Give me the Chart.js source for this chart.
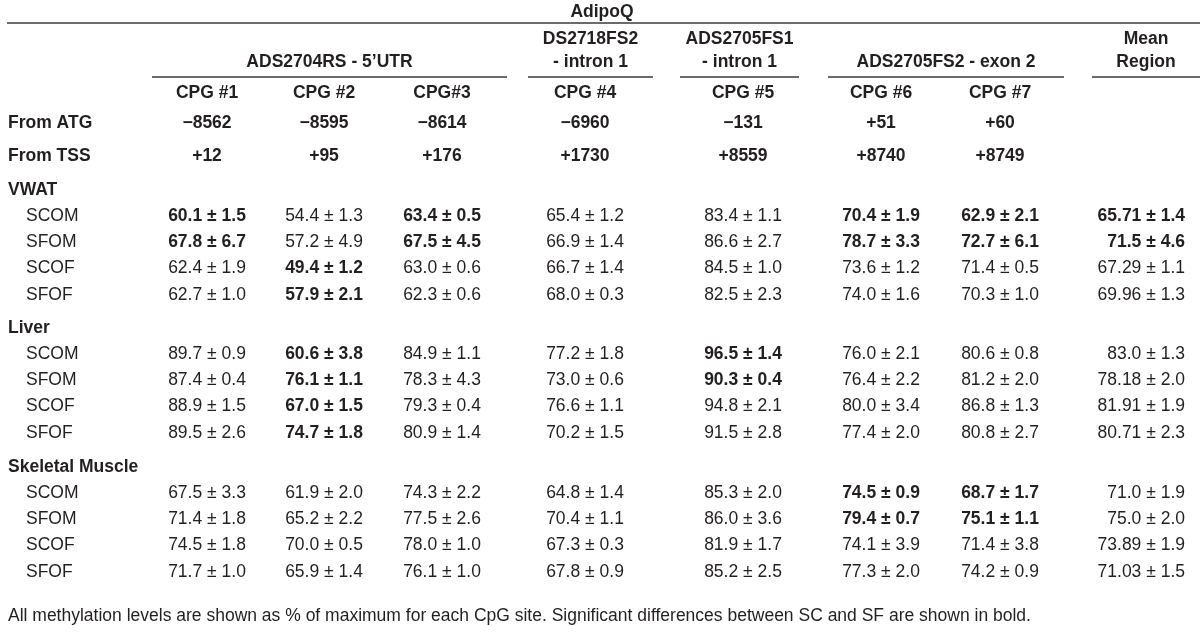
<!DOCTYPE html>
<html>
<head>
<meta charset="utf-8">
<script src="https://cdn.jsdelivr.net/npm/chart.js@4.4.1/dist/chart.umd.min.js"></script>
<style>
  html, body { margin: 0; padding: 0; background: #fff; }
  canvas { display: block; }
</style>
</head>
<body>
<canvas id="tableChart" width="1200" height="633"></canvas>
<script>
// AdipoQ methylation table, drawn as text marks on a Chart.js scatter

const title = 'AdipoQ';
const cpgSites = ['CPG #1', 'CPG #2', 'CPG#3', 'CPG #4', 'CPG #5', 'CPG #6', 'CPG #7'];
const fromATG = ['\u22128562', '\u22128595', '\u22128614', '\u22126960', '\u2212131', '+51', '+60'];
const fromTSS = ['+12', '+95', '+176', '+1730', '+8559', '+8740', '+8749'];
const regions = [
    { lines: ['ADS2704RS - 5\u2019UTR'], from: 0, to: 2 },
    { lines: ['DS2718FS2', '- intron 1'], from: 3, to: 3 },
    { lines: ['ADS2705FS1', '- intron 1'], from: 4, to: 4 },
    { lines: ['ADS2705FS2 - exon 2'], from: 5, to: 6 },
    { lines: ['Mean', 'Region'], from: 7, to: 7 }
];
const tissues = ['VWAT', 'Liver', 'Skeletal Muscle'];
const diets = ['SCOM', 'SFOM', 'SCOF', 'SFOF'];

// one row per diet, columns CPG #1..#7 then mean region
const vwatValues = [
    ['60.1 \u00b1 1.5', '54.4 \u00b1 1.3', '63.4 \u00b1 0.5', '65.4 \u00b1 1.2', '83.4 \u00b1 1.1', '70.4 \u00b1 1.9', '62.9 \u00b1 2.1', '65.71 \u00b1 1.4'],
    ['67.8 \u00b1 6.7', '57.2 \u00b1 4.9', '67.5 \u00b1 4.5', '66.9 \u00b1 1.4', '86.6 \u00b1 2.7', '78.7 \u00b1 3.3', '72.7 \u00b1 6.1', '71.5 \u00b1 4.6'],
    ['62.4 \u00b1 1.9', '49.4 \u00b1 1.2', '63.0 \u00b1 0.6', '66.7 \u00b1 1.4', '84.5 \u00b1 1.0', '73.6 \u00b1 1.2', '71.4 \u00b1 0.5', '67.29 \u00b1 1.1'],
    ['62.7 \u00b1 1.0', '57.9 \u00b1 2.1', '62.3 \u00b1 0.6', '68.0 \u00b1 0.3', '82.5 \u00b1 2.3', '74.0 \u00b1 1.6', '70.3 \u00b1 1.0', '69.96 \u00b1 1.3']
];
const liverValues = [
    ['89.7 \u00b1 0.9', '60.6 \u00b1 3.8', '84.9 \u00b1 1.1', '77.2 \u00b1 1.8', '96.5 \u00b1 1.4', '76.0 \u00b1 2.1', '80.6 \u00b1 0.8', '83.0 \u00b1 1.3'],
    ['87.4 \u00b1 0.4', '76.1 \u00b1 1.1', '78.3 \u00b1 4.3', '73.0 \u00b1 0.6', '90.3 \u00b1 0.4', '76.4 \u00b1 2.2', '81.2 \u00b1 2.0', '78.18 \u00b1 2.0'],
    ['88.9 \u00b1 1.5', '67.0 \u00b1 1.5', '79.3 \u00b1 0.4', '76.6 \u00b1 1.1', '94.8 \u00b1 2.1', '80.0 \u00b1 3.4', '86.8 \u00b1 1.3', '81.91 \u00b1 1.9'],
    ['89.5 \u00b1 2.6', '74.7 \u00b1 1.8', '80.9 \u00b1 1.4', '70.2 \u00b1 1.5', '91.5 \u00b1 2.8', '77.4 \u00b1 2.0', '80.8 \u00b1 2.7', '80.71 \u00b1 2.3']
];
const muscleValues = [
    ['67.5 \u00b1 3.3', '61.9 \u00b1 2.0', '74.3 \u00b1 2.2', '64.8 \u00b1 1.4', '85.3 \u00b1 2.0', '74.5 \u00b1 0.9', '68.7 \u00b1 1.7', '71.0 \u00b1 1.9'],
    ['71.4 \u00b1 1.8', '65.2 \u00b1 2.2', '77.5 \u00b1 2.6', '70.4 \u00b1 1.1', '86.0 \u00b1 3.6', '79.4 \u00b1 0.7', '75.1 \u00b1 1.1', '75.0 \u00b1 2.0'],
    ['74.5 \u00b1 1.8', '70.0 \u00b1 0.5', '78.0 \u00b1 1.0', '67.3 \u00b1 0.3', '81.9 \u00b1 1.7', '74.1 \u00b1 3.9', '71.4 \u00b1 3.8', '73.89 \u00b1 1.9'],
    ['71.7 \u00b1 1.0', '65.9 \u00b1 1.4', '76.1 \u00b1 1.0', '67.8 \u00b1 0.9', '85.2 \u00b1 2.5', '77.3 \u00b1 2.0', '74.2 \u00b1 0.9', '71.03 \u00b1 1.5']
];
// significant SC vs SF differences (bold), same shape as the values
const vwatBold = [
    [1, 0, 1, 0, 0, 1, 1, 1],
    [1, 0, 1, 0, 0, 1, 1, 1],
    [0, 1, 0, 0, 0, 0, 0, 0],
    [0, 1, 0, 0, 0, 0, 0, 0]
];
const liverBold = [
    [0, 1, 0, 0, 1, 0, 0, 0],
    [0, 1, 0, 0, 1, 0, 0, 0],
    [0, 1, 0, 0, 0, 0, 0, 0],
    [0, 1, 0, 0, 0, 0, 0, 0]
];
const muscleBold = [
    [0, 0, 0, 0, 0, 1, 1, 0],
    [0, 0, 0, 0, 0, 1, 1, 0],
    [0, 0, 0, 0, 0, 0, 0, 0],
    [0, 0, 0, 0, 0, 0, 0, 0]
];
const footnote = 'All methylation levels are shown as % of maximum for each CpG site. Significant differences between SC and SF are shown in bold.';

// layout (scale units = pixels of the 1200 x 633 area)
const colX = [207, 324, 442, 585, 743, 881, 1000, 1185];
const spanX = [[152, 507], [528, 653], [680, 799], [828, 1064], [1092, 1200]];
const labelX = 8, dietX = 26;
const titleY = 12, ruleY = 23, regionY = [39, 62], underlineY = 77;
const cpgY = 93, atgY = 123, tssY = 156;
const tissueY = [190, 328, 467], rowStep = 26.2, footY = 616;

const FONT = '"Liberation Sans", Arial, sans-serif';
const SIZE = 17.5;

const cells = [];
function cell(x, y, text, bold, align) {
    cells.push({ x: x, y: y, text: text, bold: !!bold, align: align || 'center' });
}

cell(602, titleY, title, true);
regions.forEach(function (r, i) {
    const cx = (spanX[i][0] + spanX[i][1]) / 2;
    const ys = r.lines.length === 2 ? regionY : [regionY[1]];
    r.lines.forEach(function (t, j) { cell(cx, ys[j], t, true); });
});
cpgSites.forEach(function (t, i) { cell(colX[i], cpgY, t, true); });
cell(labelX, atgY, 'From ATG', true, 'left');
fromATG.forEach(function (t, i) { cell(colX[i], atgY, t, true); });
cell(labelX, tssY, 'From TSS', true, 'left');
fromTSS.forEach(function (t, i) { cell(colX[i], tssY, t, true); });

const tissueValues = [vwatValues, liverValues, muscleValues];
const tissueBold = [vwatBold, liverBold, muscleBold];
tissues.forEach(function (name, g) {
    cell(labelX, tissueY[g], name, true, 'left');
    diets.forEach(function (d, r) {
        const y = tissueY[g] + rowStep * (r + 1);
        cell(dietX, y, d, false, 'left');
        tissueValues[g][r].forEach(function (v, c) {
            cell(colX[c], y, v, tissueBold[g][r][c], c === 7 ? 'right' : 'center');
        });
    });
});
cell(labelX, footY, footnote, false, 'left');

const tablePlugin = {
    id: 'tableText',
    afterDatasetsDraw(chart) {
        const ctx = chart.ctx;
        const xs = chart.scales.x, ys = chart.scales.y;
        ctx.save();
        // rules
        ctx.strokeStyle = '#6b6b6b';
        ctx.lineWidth = 2;
        ctx.beginPath();
        ctx.moveTo(xs.getPixelForValue(7), ys.getPixelForValue(ruleY));
        ctx.lineTo(xs.getPixelForValue(1200), ys.getPixelForValue(ruleY));
        spanX.forEach(function (s) {
            ctx.moveTo(xs.getPixelForValue(s[0]), ys.getPixelForValue(underlineY));
            ctx.lineTo(xs.getPixelForValue(s[1]), ys.getPixelForValue(underlineY));
        });
        ctx.stroke();
        // text marks
        const meta = chart.getDatasetMeta(0);
        ctx.fillStyle = '#231f20';
        ctx.textBaseline = 'middle';
        meta.data.forEach(function (pt, i) {
            const c = chart.data.datasets[0].data[i];
            ctx.font = (c.bold ? 'bold ' : '') + SIZE + 'px ' + FONT;
            ctx.textAlign = c.align;
            ctx.fillText(c.text, pt.x, pt.y);
        });
        ctx.restore();
    }
};

new Chart(document.getElementById('tableChart'), {
    type: 'scatter',
    data: {
        datasets: [{
            data: cells,
            pointRadius: 0,
            pointHoverRadius: 0
        }]
    },
    options: {
        responsive: false,
        animation: false,
        devicePixelRatio: 1,
        layout: { padding: 0 },
        plugins: { legend: { display: false }, tooltip: { enabled: false } },
        scales: {
            x: { type: 'linear', min: 0, max: 1200, display: false },
            y: { type: 'linear', min: 0, max: 633, reverse: true, display: false }
        }
    },
    plugins: [tablePlugin]
});
</script>
</body>
</html>
